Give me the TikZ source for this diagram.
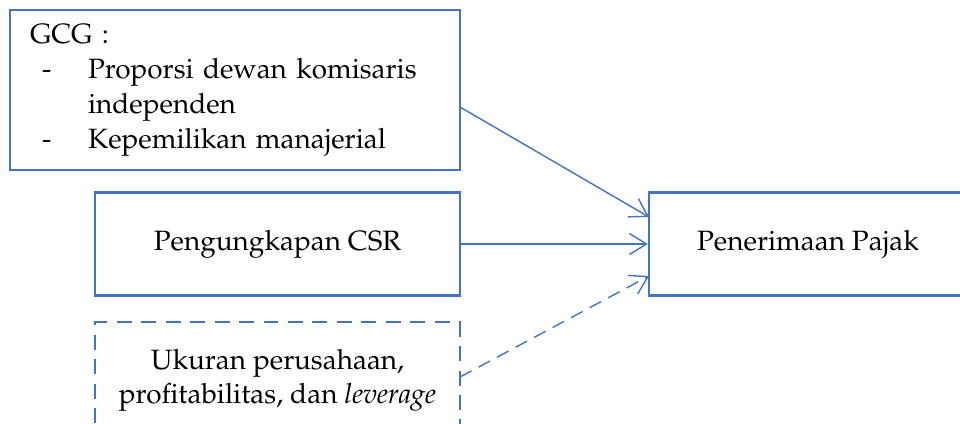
\documentclass[tikz,border=0pt]{standalone}
\usepackage[T1]{fontenc}
\usepackage{mathpazo}
\usepackage{tikz}
\usetikzlibrary{positioning,arrows.meta}
\definecolor{boxblue}{RGB}{68,114,196}

\begin{document}
\begin{tikzpicture}[x=0.02cm,y=-0.02cm,every node/.style={font=\fontsize{15.9}{19.9}\selectfont},
    varbox/.style={draw=boxblue,line width=1.4pt,minimum width=7.3cm,minimum height=2.06cm,align=center,inner sep=0pt},
    ctrlbox/.style={varbox,dash pattern=on 0.3cm off 0.19cm},
    link/.style={draw=boxblue,line width=0.8pt,-{Straight Barb[length=0.34cm,width=0.42cm,line width=0.8pt]}}]
    \useasboundingbox (0,0) rectangle (960,423);
    \node[varbox,minimum width=9cm,minimum height=3.2cm,text width=8.2cm,align=left] (gcg) at (235,90) {GCG :\\
      \makebox[1.16cm][l]{\hspace{0.24cm}-}Proporsi dewan komisaris\\
      \hspace*{1.16cm}independen\\
      \makebox[1.16cm][l]{\hspace{0.24cm}-}Kepemilikan manajerial};
    \node[varbox] (csr) at (277.5,244) {Pengungkapan CSR};
    \node[ctrlbox,minimum height=2.3cm] (kontrol) at (277.5,379.5) {\raisebox{0.14cm}{\begin{tabular}{@{}c@{}}Ukuran perusahaan,\\ profitabilitas, dan \textit{leverage}\end{tabular}}};
    \node[varbox,minimum width=6.36cm] (pajak) at (808,244) {Penerimaan Pajak};
    % arrows into Penerimaan Pajak
    \coordinate (g0) at (460,107); \coordinate (p1) at (649,217);
    \coordinate (k0) at (460,377); \coordinate (p3) at (649,276);
    \draw[link] (g0)--(p1);
    \draw[link] (csr.east)--(pajak.west);
    \draw[link,dash pattern=on 0.26cm off 0.16cm] (k0)--(p3);
  \end{tikzpicture}
\end{document}
